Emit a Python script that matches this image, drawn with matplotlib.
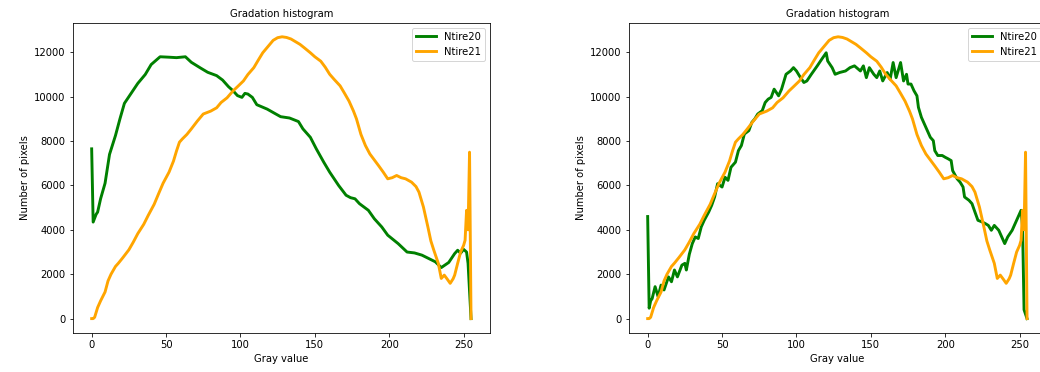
import matplotlib
matplotlib.use("Agg")
import matplotlib.pyplot as plt

# Ntire20 histogram (left panel)
green_left_x = [0, 1, 3, 4, 6, 9, 12, 16, 19, 22, 27, 31, 36, 40, 46, 52, 57, 63, 67, 73,
                78, 84, 88, 92, 95, 98, 101, 103, 105, 108, 111, 118, 123, 127, 133, 139,
                142, 147, 151, 156, 160, 166, 171, 174, 177, 180, 186, 190, 195, 199, 206,
                212, 217, 222, 225, 231, 235, 240, 244, 246, 248, 250, 252, 253, 255]
green_left_y = [7650, 4350, 4700, 4800, 5400, 6100, 7400, 8250, 9000, 9700, 10200, 10600,
                11000, 11450, 11800, 11780, 11760, 11800, 11550, 11300, 11100, 10950,
                10750, 10450, 10270, 10050, 9970, 10150, 10120, 9970, 9640, 9440, 9250,
                9100, 9040, 8880, 8550, 8170, 7650, 7050, 6600, 6000, 5560, 5450, 5400,
                5180, 4880, 4500, 4130, 3760, 3380, 3000, 2960, 2860, 2760, 2560, 2300,
                2530, 2930, 3080, 2950, 3120, 3000, 2490, 0]

# Ntire21 histogram (same in both panels)
orange_x = [0, 1, 2, 4, 6, 9, 11, 13, 16, 18, 21, 25, 28, 31, 35, 38, 42, 45, 48, 52, 55,
            57, 59, 61, 64, 67, 71, 75, 80, 84, 87, 91, 95, 98, 102, 105, 109, 112, 115,
            119, 122, 125, 128, 131, 134, 137, 140, 143, 147, 150, 154, 157, 160, 163, 167,
            170, 173, 176, 178, 181, 184, 187, 190, 193, 196, 199, 202, 205, 208, 211, 215,
            218, 220, 223, 226, 228, 230, 233, 235, 237, 239, 241, 243, 244, 246, 248, 250,
            251, 252, 253, 254, 255]
orange_y = [0, 0, 60, 500, 800, 1200, 1700, 2000, 2350, 2500, 2750, 3100, 3450, 3830, 4250,
            4650, 5150, 5630, 6100, 6600, 7100, 7550, 7950, 8100, 8300, 8550, 8900, 9220,
            9350, 9500, 9740, 9950, 10260, 10450, 10710, 11000, 11310, 11650, 11980, 12300,
            12540, 12660, 12700, 12670, 12600, 12480, 12360, 12200, 11980, 11800, 11600,
            11330, 11010, 10780, 10490, 10150, 9800, 9350, 9000, 8300, 7800, 7420, 7150,
            6880, 6600, 6300, 6350, 6450, 6350, 6300, 6150, 5950, 5700, 5030, 4130, 3500,
            3080, 2490, 1810, 1960, 1780, 1590, 1800, 1960, 2490, 3000, 3300, 3530, 4880,
            4000, 7500, 0]

# Ntire20 histogram (right panel)
green_right_x = [0, 1, 2, 3, 5, 7, 9, 11, 14, 16, 18, 20, 23, 25, 26, 28, 30, 32, 34, 36,
                 38, 41, 43, 45, 47, 50, 52, 54, 56, 59, 61, 63, 65, 68, 70, 72, 74, 77, 79,
                 81, 83, 85, 88, 90, 93, 96, 98, 100, 102, 105, 107, 110, 114, 117, 120, 121,
                 124, 126, 129, 133, 136, 139, 143, 145, 147, 149, 152, 154, 156, 158, 161,
                 163, 165, 167, 170, 172, 174, 175, 177, 179, 181, 182, 184, 186, 188, 190,
                 192, 193, 195, 198, 200, 202, 204, 205, 208, 210, 212, 213, 216, 218, 220,
                 222, 225, 227, 229, 231, 233, 236, 238, 240, 242, 245, 247, 249, 251, 252,
                 253, 255]
green_right_y = [4600, 470, 800, 900, 1440, 990, 1510, 1290, 1880, 1660, 2190, 1880, 2410,
                 2490, 2190, 2900, 3380, 3680, 3610, 4130, 4430, 4800, 5100, 5480, 6080,
                 5930, 6370, 6230, 6820, 7050, 7570, 7800, 8320, 8470, 8840, 9000, 9220,
                 9370, 9740, 9890, 9970, 10340, 10040, 10340, 11010, 11160, 11310, 11160,
                 10940, 10640, 10710, 11010, 11390, 11690, 11980, 11610, 11310, 11010,
                 11090, 11160, 11310, 11390, 11160, 11390, 10860, 11310, 11010, 10860,
                 11160, 10710, 11090, 10790, 11540, 10860, 11540, 10710, 11010, 10570,
                 10570, 10270, 10040, 9520, 9070, 8770, 8470, 8170, 8020, 7570, 7350, 7350,
                 7270, 7200, 7120, 6670, 6300, 6150, 5930, 5480, 5330, 5180, 4800, 4430,
                 4350, 4280, 4200, 3980, 4200, 3980, 3680, 3380, 3680, 3980, 4280, 4580,
                 4880, 4130, 400, 0]

labels = ["Ntire20", "Ntire21"]
xlabel = "Gray value"
ylabel = "Number of pixels"
title = "Gradation histogram"

W, H, DPI = 1040, 372, 72
fig = plt.figure(figsize=(W / DPI, H / DPI), dpi=DPI)
ax_w = 417.3 / W
ax_h = 310 / H
ax_b = (H - 332.7) / H
ax1 = fig.add_axes([72.7 / W, ax_b, ax_w, ax_h])
ax2 = fig.add_axes([628.7 / W, ax_b, ax_w, ax_h])

for ax, gx, gy in [(ax1, green_left_x, green_left_y), (ax2, green_right_x, green_right_y)]:
    ax.plot(gx, gy, color="green", lw=2.9, label=labels[0])
    ax.plot(orange_x, orange_y, color="orange", lw=2.9, label=labels[1])
    ax.set_title(title, fontsize=10)
    ax.set_xlabel(xlabel, fontsize=10)
    ax.set_ylabel(ylabel, fontsize=10)
    ax.set_xticks([0, 50, 100, 150, 200, 250])
    ax.set_yticks([0, 2000, 4000, 6000, 8000, 10000, 12000])
    ax.tick_params(labelsize=10)
    ax.legend(loc="upper right", fontsize=10)

fig.savefig("out.png", dpi=DPI)
